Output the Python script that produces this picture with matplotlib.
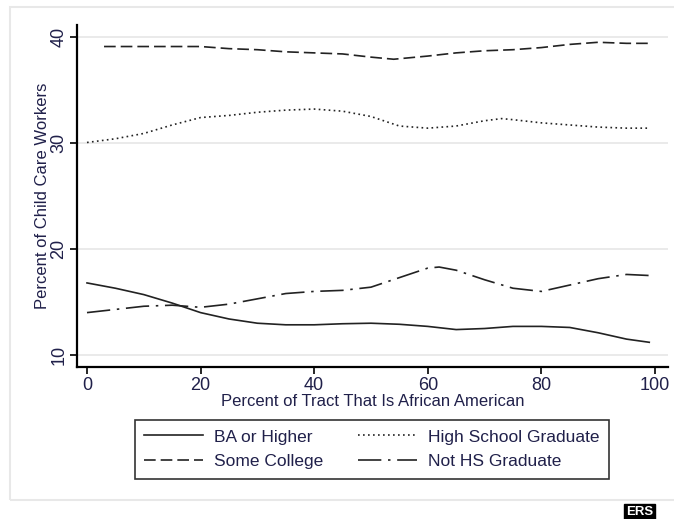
import matplotlib
matplotlib.use("Agg")
import matplotlib.pyplot as plt
from matplotlib.patches import Rectangle

plt.rcParams['font.family'] = ['Liberation Sans', 'DejaVu Sans']

# smoothed shares of child care workers by tract composition
ba_x = [0, 5, 10, 15, 20, 25, 30, 35, 40, 45, 50, 55, 60, 65, 70, 75, 80, 85, 90, 95, 99]
ba_y = [16.8, 16.3, 15.7, 14.9, 14.0, 13.4, 13.0, 12.85, 12.85, 12.95, 13.0, 12.9,
        12.7, 12.4, 12.5, 12.7, 12.7, 12.6, 12.1, 11.5, 11.2]

sc_x = [3, 10, 15, 20, 25, 30, 35, 40, 45, 50, 54, 60, 65, 70, 75, 80, 85, 90, 95, 99]
sc_y = [39.1, 39.1, 39.1, 39.1, 38.9, 38.8, 38.6, 38.5, 38.4, 38.1, 37.9, 38.2,
        38.5, 38.7, 38.8, 39.0, 39.3, 39.5, 39.4, 39.4]

hs_x = [0, 5, 10, 15, 20, 25, 30, 35, 40, 45, 50, 55, 60, 65, 70, 73, 75, 80, 85, 90, 95, 99]
hs_y = [30.05, 30.4, 30.9, 31.7, 32.4, 32.6, 32.9, 33.1, 33.2, 33.0, 32.5, 31.6,
        31.4, 31.6, 32.1, 32.3, 32.2, 31.9, 31.7, 31.5, 31.4, 31.4]

nhs_x = [0, 5, 10, 15, 20, 25, 30, 35, 40, 45, 50, 55, 60, 62, 65, 70, 75, 80, 85, 90, 95, 99]
nhs_y = [14.0, 14.3, 14.6, 14.7, 14.5, 14.8, 15.3, 15.8, 16.0, 16.1, 16.4, 17.3,
         18.2, 18.3, 18.0, 17.1, 16.3, 16.0, 16.6, 17.2, 17.6, 17.5]

x_ticks = [0, 20, 40, 60, 80, 100]
y_ticks = [10, 20, 30, 40]

text_col = '#20204a'
line_col = '#222222'

fig = plt.figure(figsize=(6.74, 5.19), dpi=100)
fig.patches.append(Rectangle((10 / 674, 19 / 519), 1.0, 1 - 7 / 519 - 19 / 519,
                             transform=fig.transFigure, fill=False,
                             edgecolor='#e8e8e8', linewidth=1.5))

ax = fig.add_axes([77 / 674, 1 - 367 / 519, 591 / 674, 342 / 519])

ax.plot(ba_x, ba_y, color=line_col, lw=1.2, linestyle='-', label='BA or Higher')
ax.plot(sc_x, sc_y, color=line_col, lw=1.2, linestyle=(0, (7, 3)), label='Some College')
ax.plot(hs_x, hs_y, color=line_col, lw=1.2, linestyle=(0, (1, 2)), label='High School Graduate')
ax.plot(nhs_x, nhs_y, color=line_col, lw=1.2, linestyle=(0, (14, 4, 1.5, 4)), label='Not HS Graduate')

ax.set_xlim(-1.76, 102.3)
ax.set_ylim(8.87, 41.13)
ax.set_xticks(x_ticks)
ax.set_yticks(y_ticks)
ax.grid(axis='y', color='#e6e6e6', lw=1.2)
ax.set_axisbelow(True)

for side in ['top', 'right']:
    ax.spines[side].set_visible(False)
ax.spines['left'].set_linewidth(1.6)
ax.spines['bottom'].set_linewidth(1.6)
ax.tick_params(length=5, width=1.2, colors='black', labelcolor=text_col, labelsize=13, pad=2)
for lab in ax.get_yticklabels():
    lab.set_rotation(90)
    lab.set_va('center')

ax.set_xlabel('Percent of Tract That Is African American', fontsize=12, color=text_col, labelpad=0)
ax.set_ylabel('Percent of Child Care Workers', fontsize=12, color=text_col, labelpad=0)

# columns fill top to bottom: BA / Some College, then HS / Not HS
leg = ax.legend(loc='upper left', bbox_to_anchor=(0.098, -0.3246, 0.802, 0.170),
                mode='expand', ncol=2, fontsize=12.5, frameon=True, fancybox=False,
                edgecolor='black', handlelength=3.4, handletextpad=0.63,
                borderaxespad=0, borderpad=0.55, labelspacing=0.55, columnspacing=2.2)
leg.get_frame().set_linewidth(1.2)
for t in leg.get_texts():
    t.set_color(text_col)

fig.text(626 / 674, 4 / 519, 'ERS', color='white', fontsize=9.5, fontweight='bold',
         bbox=dict(facecolor='black', edgecolor='black', pad=1.5))

fig.savefig('out.png', dpi=100)
